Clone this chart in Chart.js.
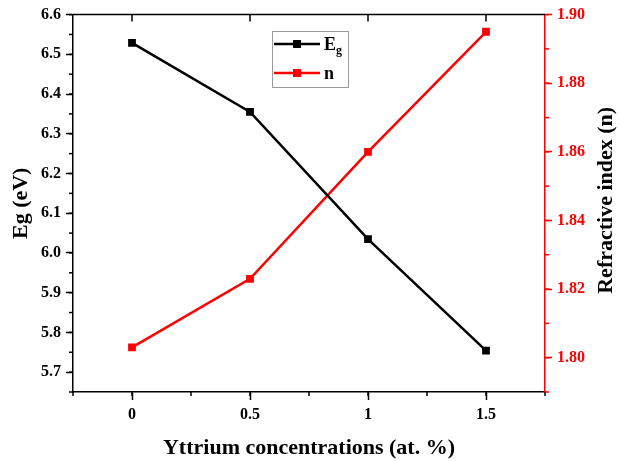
<!DOCTYPE html>
<html><head><meta charset="utf-8">
<script src="https://cdn.jsdelivr.net/npm/chart.js@4.4.1/dist/chart.umd.min.js"></script>
<style>html,body{margin:0;padding:0;background:#fff}#wrap{width:620px;height:461px;position:relative}</style>
</head><body><div id="wrap"><canvas id="c" width="620" height="461"></canvas></div>
<script>
const concentrations = [0, 0.5, 1, 1.5];
const egValues = [6.529, 6.355, 6.035, 5.754];
const nValues = [1.803, 1.823, 1.860, 1.895];
const xTicks = [0, 0.5, 1, 1.5];
const egTicks = [5.7, 5.8, 5.9, 6.0, 6.1, 6.2, 6.3, 6.4, 6.5, 6.6];
const nTicks = [1.80, 1.82, 1.84, 1.86, 1.88, 1.90];
const seriesLabels = ['Eg', 'n'];
const rightTitle = 'Refractive index (n)';

const SERIF = '"Liberation Serif", "Times New Roman", serif';
const RED = '#ff0000';

function pts(xs, ys) { return xs.map((x, i) => ({x: x, y: ys[i]})); }

const minorSteps = { x: 0.25, y: 0.05, y1: 0.01 };

const minorTickPlugin = {
  id: 'minorTicks',
  afterDraw(chart) {
    const ctx = chart.ctx;
    const ca = chart.chartArea;
    ctx.save();
    Object.keys(minorSteps).forEach(id => {
      const s = chart.scales[id];
      const step = minorSteps[id];
      const n = Math.round((s.max - s.min) / step);
      ctx.strokeStyle = id === 'y1' ? RED : '#000';
      ctx.lineWidth = 1.5;
      for (let i = 0; i <= n; i++) {
        const v = s.min + i * step;
        const p = s.getPixelForValue(v);
        ctx.beginPath();
        if (id === 'x') { ctx.moveTo(p, ca.bottom); ctx.lineTo(p, ca.bottom + 4); }
        else if (id === 'y') { ctx.moveTo(ca.left, p); ctx.lineTo(ca.left - 4, p); }
        else { ctx.moveTo(ca.right, p); ctx.lineTo(ca.right + 4, p); }
        ctx.stroke();
      }
    });
    // top frame line with inward major ticks
    ctx.strokeStyle = '#000';
    ctx.lineWidth = 1.5;
    ctx.beginPath();
    ctx.moveTo(ca.left, ca.top); ctx.lineTo(ca.right, ca.top); ctx.stroke();
    const sx = chart.scales.x;
    xTicks.forEach(v => {
      const p = sx.getPixelForValue(v);
      ctx.beginPath(); ctx.moveTo(p, ca.top); ctx.lineTo(p, ca.top + 7); ctx.stroke();
    });
    // right axis title, reading bottom-to-top
    ctx.fillStyle = '#000';
    ctx.font = 'bold 22px ' + SERIF;
    ctx.textAlign = 'center';
    ctx.textBaseline = 'middle';
    ctx.translate(606, (ca.top + ca.bottom) / 2 - 3);
    ctx.rotate(-Math.PI / 2);
    ctx.fillText(rightTitle, 0, 0);
    ctx.restore();
  }
};

const legendPlugin = {
  id: 'customLegend',
  afterDraw(chart) {
    const ctx = chart.ctx;
    ctx.save();
    const bx = 272, by = 31, bw = 76, bh = 56;
    ctx.strokeStyle = '#9a9a9a';
    ctx.lineWidth = 1;
    ctx.strokeRect(bx + 0.5, by + 0.5, bw, bh);
    chart.data.datasets.forEach((ds, i) => {
      const y = by + 13 + i * 29;
      ctx.strokeStyle = ds.borderColor;
      ctx.lineWidth = 2.5;
      ctx.beginPath(); ctx.moveTo(bx + 2, y); ctx.lineTo(bx + 48, y); ctx.stroke();
      ctx.fillStyle = ds.borderColor;
      ctx.fillRect(bx + 21, y - 4, 8, 8);
      ctx.fillStyle = '#000';
      ctx.textBaseline = 'alphabetic';
      ctx.textAlign = 'left';
      const lab = seriesLabels[i];
      ctx.font = 'bold 18px ' + SERIF;
      const main = lab.charAt(0);
      ctx.fillText(main, bx + 52, y + 6);
      if (lab.length > 1) {
        const w = ctx.measureText(main).width;
        ctx.font = 'bold 12px ' + SERIF;
        ctx.fillText(lab.slice(1), bx + 52 + w, y + 10);
      }
    });
    ctx.restore();
  }
};

const tickFont = {family: SERIF, size: 16, weight: 'bold'};
const titleFont = {family: SERIF, size: 22, weight: 'bold'};

new Chart(document.getElementById('c'), {
  type: 'line',
  data: {
    datasets: [
      {label: seriesLabels[0], data: pts(concentrations, egValues), yAxisID: 'y',
       borderColor: '#000', backgroundColor: '#000', borderWidth: 2.5,
       pointStyle: 'rect', pointRadius: 5.5, pointBorderWidth: 0, pointBackgroundColor: '#000', tension: 0},
      {label: seriesLabels[1], data: pts(concentrations, nValues), yAxisID: 'y1',
       borderColor: RED, backgroundColor: RED, borderWidth: 2.5,
       pointStyle: 'rect', pointRadius: 5.5, pointBorderWidth: 0, pointBackgroundColor: RED, tension: 0}
    ]
  },
  options: {
    responsive: false,
    devicePixelRatio: 1,
    animation: false,
    layout: {padding: {top: 13, left: 0, right: 0, bottom: 0}},
    plugins: {legend: {display: false}, tooltip: {enabled: false}},
    scales: {
      x: {
        type: 'linear', min: -0.25, max: 1.75,
        afterBuildTicks: s => { s.ticks = xTicks.map(v => ({value: v})); },
        afterFit: s => { s.height = 69; },
        grid: {drawOnChartArea: false, drawTicks: true, tickLength: 8, tickColor: '#000', tickWidth: 1.5},
        border: {color: '#000', width: 1.5},
        ticks: {font: tickFont, color: '#000', padding: 5, autoSkip: false, maxRotation: 0,
                callback: v => String(v)},
        title: {display: true, text: 'Yttrium concentrations (at. %)', font: titleFont, color: '#000', padding: {top: 0, bottom: -1}}
      },
      y: {
        type: 'linear', position: 'left', min: 5.65, max: 6.6,
        afterBuildTicks: s => { s.ticks = egTicks.map(v => ({value: v})); },
        afterFit: s => { s.width = 73; },
        grid: {drawOnChartArea: false, drawTicks: true, tickLength: 7, tickColor: '#000', tickWidth: 1.5},
        border: {color: '#000', width: 1.5},
        ticks: {font: tickFont, color: '#000', padding: 5, autoSkip: false, callback: v => Number(v).toFixed(1)},
        title: {display: true, text: 'Eg (eV)', font: titleFont, color: '#000', padding: {top: 8, bottom: 0}}
      },
      y1: {
        type: 'linear', position: 'right', min: 1.79, max: 1.90,
        afterBuildTicks: s => { s.ticks = nTicks.map(v => ({value: v})); },
        afterFit: s => { s.width = 75; },
        grid: {drawOnChartArea: false, drawTicks: true, tickLength: 7, tickColor: RED, tickWidth: 1.5},
        border: {color: RED, width: 1.5},
        ticks: {font: tickFont, color: RED, padding: 5, autoSkip: false, callback: v => Number(v).toFixed(2)},
        title: {display: false}
      }
    }
  },
  plugins: [minorTickPlugin, legendPlugin]
});
</script>
</body></html>
